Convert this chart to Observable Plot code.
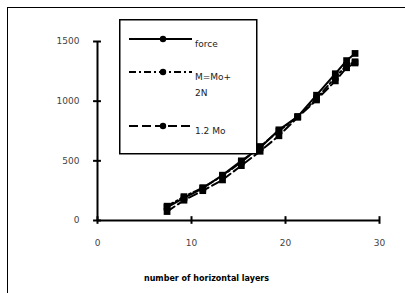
<!DOCTYPE html>
<html>
<head>
<meta charset="utf-8">
<script src="https://cdn.jsdelivr.net/npm/d3@7"></script>
<script src="https://cdn.jsdelivr.net/npm/@observablehq/plot@0.6"></script>
<style>
  html, body { margin: 0; padding: 0; background: #fff; }
  #wrap { position: relative; width: 405px; height: 293px; overflow: hidden; font-family: "DejaVu Sans", sans-serif; }
  #frame { position: absolute; left: 7px; top: 7px; width: 420px; height: 320px; border-left: 1.5px solid #000; border-top: 1.5px solid #000; }
  #chart { position: absolute; left: 0; top: 0; }
  #legend { position: absolute; left: 119px; top: 19px; }
</style>
</head>
<body>
<div id="wrap">
  <div id="frame"></div>
  <div id="chart"></div>
  <div id="legend"></div>
</div>
<script>
const layers = [7.4, 9.2, 11.2, 13.3, 15.3, 17.3, 19.3, 21.3, 23.3, 25.3, 26.5, 27.4];
const force  = [110, 190, 270, 380, 500, 610, 760, 870, 1050, 1230, 1340, 1400];
const mMoN   = [120, 200, 275, 375, 490, 620, 750, 870, 1020, 1200, 1300, 1330];
const mo12   = [75, 170, 250, 340, 460, 580, 710, 865, 1010, 1170, 1280, 1320];
const seriesNames = ["force", "M=Mo+ 2N", "1.2 Mo"];
const xTicks = [0, 10, 20, 30];
const yTicks = [0, 500, 1000, 1500];
const xLabel = "number of horizontal layers";

const dashes = {"force": null, "M=Mo+ 2N": "7,3,2,3", "1.2 Mo": "9,4"};
const seriesValues = [force, mMoN, mo12];
const data = seriesNames.flatMap((s, i) => layers.map((x, j) => ({series: s, x, y: seriesValues[i][j]})));

const chart = Plot.plot({
  width: 405,
  height: 293,
  marginLeft: 97,
  marginRight: 26,
  marginTop: 41,
  marginBottom: 73,
  x: {domain: [0, 30], label: null},
  y: {domain: [0, 1500], label: null},
  style: {fontFamily: "DejaVu Sans, sans-serif", background: "transparent", overflow: "visible"},
  marks: [
    Plot.axisX(xTicks, {tickSize: 0, tickPadding: 19, fontSize: 9, fill: "#444", tickFormat: d => String(d), label: null}),
    Plot.axisY(yTicks, {tickSize: 0, tickPadding: 18, fontSize: 9, fill: "#444", tickFormat: d => String(d), label: null}),
    Plot.ruleY([0], {x1: 0, x2: 30, stroke: "#000", strokeWidth: 2}),
    Plot.ruleX([0], {y1: 0, y2: 1500, stroke: "#000", strokeWidth: 2}),
    Plot.ruleX(xTicks, {x: d => d, y1: -32, y2: 32, stroke: "#000", strokeWidth: 2}),
    Plot.ruleY(yTicks, {y: d => d, x1: -0.42, x2: 0.42, stroke: "#000", strokeWidth: 2}),
    ...seriesNames.map(s => Plot.line(data.filter(d => d.series === s), {x: "x", y: "y", stroke: "#000", strokeWidth: 2, strokeDasharray: dashes[s]})),
    Plot.dot(data, {x: "x", y: "y", symbol: "square", r: 3.8, fill: "#000", stroke: "none"}),
    Plot.text([xLabel], {frameAnchor: "bottom", dx: -32, dy: 60, fontSize: 8, fontWeight: "bold", fill: "#000"})
  ]
});
document.getElementById("chart").appendChild(chart);

// legend
const lg = d3.select("#legend").append("svg").attr("width", 140).attr("height", 137);
lg.append("rect").attr("x", 0.75).attr("y", 0.75).attr("width", 137).attr("height", 134)
  .attr("fill", "#fff").attr("stroke", "#000").attr("stroke-width", 1.5);
const entries = [
  {name: "force", lines: ["force"], ly: 20},
  {name: "M=Mo+ 2N", lines: ["M=Mo+", "2N"], ly: 53},
  {name: "1.2 Mo", lines: ["1.2 Mo"], ly: 107}
];
entries.forEach(e => {
  lg.append("line").attr("x1", 10).attr("x2", 73).attr("y1", e.ly).attr("y2", e.ly)
    .attr("stroke", "#000").attr("stroke-width", 2).attr("stroke-dasharray", dashes[e.name]);
  lg.append("circle").attr("cx", 44).attr("cy", e.ly).attr("r", 3.2).attr("fill", "#000");
  e.lines.forEach((t, i) => {
    lg.append("text").attr("x", 76).attr("y", e.ly + 8 + i * 16).attr("font-size", 9)
      .attr("font-family", "DejaVu Sans, sans-serif").attr("fill", "#222").text(t);
  });
});
</script>
</body>
</html>
